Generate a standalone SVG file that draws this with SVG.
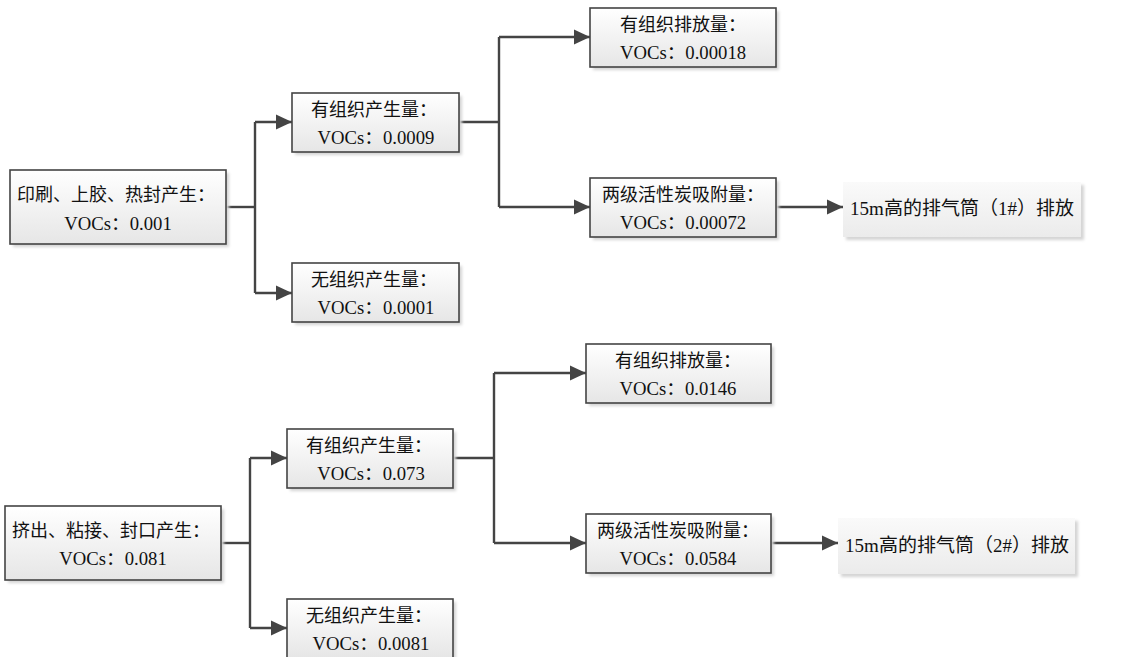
<svg xmlns="http://www.w3.org/2000/svg" width="1133" height="657" viewBox="0 0 1133 657">
<style>
.box{fill:url(#g);stroke:#444;stroke-width:1.6}
.out{fill:url(#g2);stroke:none}
.sh{fill:#d4d4d4;filter:url(#blur)}
.t{font-family:"Liberation Serif","Noto Sans CJK SC",serif;font-size:18px;fill:#111;text-anchor:middle}
.v{font-size:18.7px}
.big{font-size:19px}
.c{fill:none;stroke:#444;stroke-width:2.4}
</style>
<defs>
<linearGradient id="g" x1="0" y1="0" x2="0" y2="1"><stop offset="0" stop-color="#ffffff"/><stop offset="1" stop-color="#e6e6e6"/></linearGradient>
<linearGradient id="g2" x1="0" y1="0" x2="0" y2="1"><stop offset="0" stop-color="#fafafa"/><stop offset="1" stop-color="#ebebeb"/></linearGradient>
<filter id="blur" x="-10%" y="-10%" width="120%" height="130%"><feGaussianBlur stdDeviation="1.5"/></filter>
<marker id="a" markerUnits="userSpaceOnUse" markerWidth="18" markerHeight="18" refX="16" refY="9" orient="auto"><path d="M0,1.5 L16,9 L0,16.5 z" fill="#444"/></marker>
</defs>
<g id="connectors">
<path class="c" d="M226,207 H255"/>
<path class="c" d="M255,122 V293"/>
<path class="c" d="M255,122 H292" marker-end="url(#a)"/>
<path class="c" d="M255,293 H292" marker-end="url(#a)"/>
<path class="c" d="M459,122 H499"/>
<path class="c" d="M499,37 V207"/>
<path class="c" d="M499,37 H590" marker-end="url(#a)"/>
<path class="c" d="M499,207 H590" marker-end="url(#a)"/>
<path class="c" d="M776,207 H843" marker-end="url(#a)"/>
<path class="c" d="M221,543 H250"/>
<path class="c" d="M250,458 V628"/>
<path class="c" d="M250,458 H287" marker-end="url(#a)"/>
<path class="c" d="M250,628 H287" marker-end="url(#a)"/>
<path class="c" d="M453,458 H494"/>
<path class="c" d="M494,373 V543"/>
<path class="c" d="M494,373 H586" marker-end="url(#a)"/>
<path class="c" d="M494,543 H586" marker-end="url(#a)"/>
<path class="c" d="M771,543 H838" marker-end="url(#a)"/>
</g>
<g id="n1">
<rect class="sh" x="13" y="173" width="216" height="74"/>
<rect class="box" x="10" y="170" width="216" height="74"/>
<text class="t" x="116" y="201">印刷、上胶、热封产生：</text>
<text class="t v" x="118" y="230">VOCs：0.001</text>
</g>
<g id="n2">
<rect class="sh" x="295" y="96" width="167" height="59"/>
<rect class="box" x="292" y="93" width="167" height="59"/>
<text class="t" x="374" y="116">有组织产生量：</text>
<text class="t v" x="376" y="144">VOCs：0.0009</text>
</g>
<g id="n3">
<rect class="sh" x="295" y="266" width="167" height="59"/>
<rect class="box" x="292" y="263" width="167" height="59"/>
<text class="t" x="374" y="286">无组织产生量：</text>
<text class="t v" x="376" y="314">VOCs：0.0001</text>
</g>
<g id="n4">
<rect class="sh" x="593" y="11" width="186" height="59"/>
<rect class="box" x="590" y="8" width="186" height="59"/>
<text class="t" x="683" y="31">有组织排放量：</text>
<text class="t v" x="683" y="59">VOCs：0.00018</text>
</g>
<g id="n5">
<rect class="sh" x="593" y="181" width="186" height="59"/>
<rect class="box" x="590" y="178" width="186" height="59"/>
<text class="t" x="683" y="201">两级活性炭吸附量：</text>
<text class="t v" x="683" y="229">VOCs：0.00072</text>
</g>
<g id="n6">
<rect class="sh" x="846" y="185" width="238" height="55"/>
<rect class="out" x="843" y="182" width="238" height="55"/>
<text class="t big" x="962" y="215">15m高的排气筒（1#）排放</text>
</g>
<g id="m1">
<rect class="sh" x="8" y="509" width="216" height="74"/>
<rect class="box" x="5" y="506" width="216" height="74"/>
<text class="t" x="111" y="537">挤出、粘接、封口产生：</text>
<text class="t v" x="113" y="565">VOCs：0.081</text>
</g>
<g id="m2">
<rect class="sh" x="290" y="432" width="166" height="59"/>
<rect class="box" x="287" y="429" width="166" height="59"/>
<text class="t" x="369" y="452">有组织产生量：</text>
<text class="t v" x="371" y="480">VOCs：0.073</text>
</g>
<g id="m3">
<rect class="sh" x="290" y="602" width="166" height="59"/>
<rect class="box" x="287" y="599" width="166" height="59"/>
<text class="t" x="369" y="622">无组织产生量：</text>
<text class="t v" x="371" y="650">VOCs：0.0081</text>
</g>
<g id="m4">
<rect class="sh" x="589" y="347" width="185" height="59"/>
<rect class="box" x="586" y="344" width="185" height="59"/>
<text class="t" x="678" y="367">有组织排放量：</text>
<text class="t v" x="678" y="395">VOCs：0.0146</text>
</g>
<g id="m5">
<rect class="sh" x="589" y="517" width="185" height="59"/>
<rect class="box" x="586" y="514" width="185" height="59"/>
<text class="t" x="678" y="537">两级活性炭吸附量：</text>
<text class="t v" x="678" y="565">VOCs：0.0584</text>
</g>
<g id="m6">
<rect class="sh" x="841" y="521" width="237" height="56"/>
<rect class="out" x="838" y="518" width="237" height="56"/>
<text class="t big" x="957" y="552">15m高的排气筒（2#）排放</text>
</g>
</svg>
